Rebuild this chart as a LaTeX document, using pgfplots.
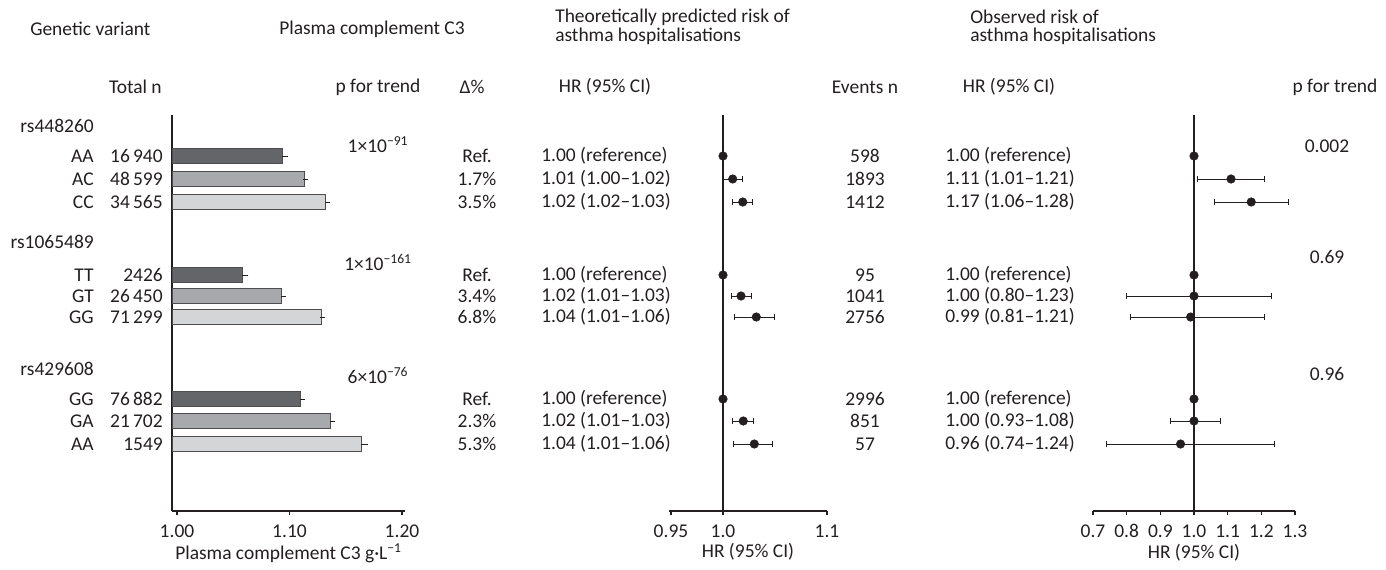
\documentclass[border=0pt]{standalone}
\usepackage{pgfplots}
\pgfplotsset{compat=1.18}
\usepackage{fontspec}
\setmainfont{Carlito}
\definecolor{bdark}{HTML}{646569}
\definecolor{bmid}{HTML}{A7A9AC}
\definecolor{blight}{HTML}{D4D5D7}
\definecolor{txt}{HTML}{231F20}
\newcommand\fs{\fontsize{14.6pt}{17.5pt}\selectfont}
\begin{document}
\fs
\begin{tikzpicture}[
  t/.style={inner sep=0pt, text=txt, font=\fs},
  R/.style={t, anchor=east},
  L/.style={t, anchor=west},
  C/.style={t, anchor=center}]
\path (0pt,0pt) rectangle (1039.5pt,-426pt);
\pgfplotsset{
  panel/.style={scale only axis, height=297pt, ymin=-511, ymax=-115,
    axis x line*=bottom, ytick=\empty, tick align=outside, major tick length=3pt,
    axis line style={line width=0.8pt, txt}, tick style={line width=0.8pt, txt},
    ticklabel style={font=\fs, text=txt},
    label style={font=\fs, text=txt},
    xticklabel style={inner sep=2pt, yshift=-5pt},
    xlabel style={yshift=2.5pt}},
  ci/.style={txt, line width=0.7pt, mark=|, mark size=2.2pt, mark options={solid}},
  dot/.style={only marks, mark=*, mark size=3.2pt, txt}
}
\begin{scope}[x=0.75pt,y=-0.75pt]
% ---------- headers
\node[L] at (30,29) {Genetic variant};
\node[L] at (279,29) {Plasma complement C3};
\node[L] at (555,17) {Theoretically predicted risk of};
\node[L] at (555,36) {asthma hospitalisations};
\node[L] at (970,17) {Observed risk of};
\node[L] at (970,36) {asthma hospitalisations};
\node[R] at (162,87) {Total n};
\node[C] at (378,87) {p for trend};
\node[C] at (472,87) {Δ\%};
\node[C] at (605,87) {HR (95\% CI)};
\node[C] at (865,87) {Events n};
\node[C] at (1009,87) {HR (95\% CI)};
\node[C] at (1335,87) {p for trend};
% ---------- row labels
\node[R] at (94,126) {rs448260};
\node[R] at (94,156) {AA}; \node[R] at (163,156) {16\,940};
\node[R] at (94,179) {AC}; \node[R] at (163,179) {48\,599};
\node[R] at (94,202) {CC}; \node[R] at (163,202) {34\,565};
\node[R] at (94,242) {rs1065489};
\node[R] at (94,275) {TT}; \node[R] at (163,275) {2426};
\node[R] at (94,296) {GT}; \node[R] at (163,296) {26\,450};
\node[R] at (94,317) {GG}; \node[R] at (163,317) {71\,299};
\node[R] at (94,369) {rs429608};
\node[R] at (94,399) {GG}; \node[R] at (163,399) {76\,882};
\node[R] at (94,421) {GA}; \node[R] at (163,421) {21\,702};
\node[R] at (94,444) {AA}; \node[R] at (163,444) {1549};
% p for trend (C3)
\node[C] at (378,145) {1×10\textsuperscript{−91}};
\node[C] at (378,262) {1×10\textsuperscript{−161}};
\node[C] at (378,375) {6×10\textsuperscript{−76}};
% delta %
\node[C] at (477,156) {Ref.};
\node[C] at (477,179) {1.7\%};
\node[C] at (477,202) {3.5\%};
\node[C] at (477,275) {Ref.};
\node[C] at (477,296) {3.4\%};
\node[C] at (477,317) {6.8\%};
\node[C] at (477,399) {Ref.};
\node[C] at (477,421) {2.3\%};
\node[C] at (477,444) {5.3\%};
% predicted HR text
\node[L] at (541,156) {1.00 (reference)};
\node[L] at (541,179) {1.01 (1.00–1.02)};
\node[L] at (541,202) {1.02 (1.02–1.03)};
\node[L] at (541,275) {1.00 (reference)};
\node[L] at (541,296) {1.02 (1.01–1.03)};
\node[L] at (541,317) {1.04 (1.01–1.06)};
\node[L] at (541,399) {1.00 (reference)};
\node[L] at (541,421) {1.02 (1.01–1.03)};
\node[L] at (541,444) {1.04 (1.01–1.06)};
% events
\node[C] at (865,156) {598};
\node[C] at (865,179) {1893};
\node[C] at (865,202) {1412};
\node[C] at (865,275) {95};
\node[C] at (865,296) {1041};
\node[C] at (865,317) {2756};
\node[C] at (865,399) {2996};
\node[C] at (865,421) {851};
\node[C] at (865,444) {57};
% observed HR text
\node[L] at (945,156) {1.00 (reference)};
\node[L] at (945,179) {1.11 (1.01–1.21)};
\node[L] at (945,202) {1.17 (1.06–1.28)};
\node[L] at (945,275) {1.00 (reference)};
\node[L] at (945,296) {1.00 (0.80–1.23)};
\node[L] at (945,317) {0.99 (0.81–1.21)};
\node[L] at (945,399) {1.00 (reference)};
\node[L] at (945,421) {1.00 (0.93–1.08)};
\node[L] at (945,444) {0.96 (0.74–1.24)};
% p for trend observed
\node[C] at (1327,146) {0.002};
\node[C] at (1327,257) {0.69};
\node[C] at (1327,374) {0.96};
\end{scope}

% ---------- panel 1: bars
\begin{axis}[panel, at={(129pt,-383.25pt)}, anchor=south west, width=174.75pt,
  xmin=0.99556, xmax=1.20267, axis y line*=left,
  xtick={1,1.1,1.2}, xticklabels={1.00,1.10,1.20},
  xlabel={Plasma complement C3 g·L\textsuperscript{−1}},
  xbar, bar width=11pt, bar shift=0pt,
  error bars/error bar style={line width=0.6pt, txt},
  error bars/error mark options={mark size=2pt, line width=0.6pt, txt}]
\addplot[fill=bdark, draw=txt!80, line width=0.6pt,
  error bars/.cd, x dir=plus, x explicit]
  coordinates {(1.094,-156) +- (0.002,0) (1.058,-275) +- (0.003,0) (1.110,-399) +- (0.0015,0)};
\addplot[fill=bmid, draw=txt!80, line width=0.6pt,
  error bars/.cd, x dir=plus, x explicit]
  coordinates {(1.113,-179) +- (0.0015,0) (1.093,-296) +- (0.0015,0) (1.136,-421) +- (0.002,0)};
\addplot[fill=blight, draw=txt!80, line width=0.6pt,
  error bars/.cd, x dir=plus, x explicit]
  coordinates {(1.132,-202) +- (0.0015,0) (1.128,-317) +- (0.0015,0) (1.164,-444) +- (0.0035,0)};
\end{axis}

% ---------- panel 2: predicted HR
\begin{axis}[panel, at={(501.75pt,-383.25pt)}, anchor=south west, width=118.5pt,
  xmin=0.94808, xmax=1.1, axis y line=none,
  xtick={0.95,1,1.1}, xticklabels={0.95,1.0,1.1},
  xlabel={HR (95\% CI)}, clip=false]
\addplot[txt, line width=0.8pt] coordinates {(1,-115) (1,-511)};
\addplot[ci] coordinates {(1.000,-179) (1.019,-179)};
\addplot[ci] coordinates {(1.0093,-202) (1.0282,-202)};
\addplot[ci] coordinates {(1.0077,-296) (1.0276,-296)};
\addplot[ci] coordinates {(1.0109,-317) (1.0493,-317)};
\addplot[ci] coordinates {(1.0093,-421) (1.0291,-421)};
\addplot[ci] coordinates {(1.0099,-444) (1.0478,-444)};
\addplot[dot] coordinates {(1,-156) (1.0093,-179) (1.019,-202)
  (1,-275) (1.0173,-296) (1.032,-317) (1,-399) (1.0195,-421) (1.0301,-444)};
\end{axis}

% ---------- panel 3: observed HR
\begin{axis}[panel, at={(819.75pt,-383.25pt)}, anchor=south west, width=151.5pt,
  xmin=0.7, xmax=1.3, axis y line=none,
  xtick={0.7,0.8,0.9,1.0,1.1,1.2,1.3}, xticklabels={0.7,0.8,0.9,1.0,1.1,1.2,1.3},
  xlabel={HR (95\% CI)}, clip=false]
\addplot[txt, line width=0.8pt] coordinates {(1,-115) (1,-511)};
\addplot[ci] coordinates {(1.01,-179) (1.21,-179)};
\addplot[ci] coordinates {(1.06,-202) (1.28,-202)};
\addplot[ci] coordinates {(0.80,-296) (1.23,-296)};
\addplot[ci] coordinates {(0.81,-317) (1.21,-317)};
\addplot[ci] coordinates {(0.93,-421) (1.08,-421)};
\addplot[ci] coordinates {(0.74,-444) (1.24,-444)};
\addplot[dot] coordinates {(1,-156) (1.11,-179) (1.17,-202)
  (1,-275) (1.00,-296) (0.99,-317) (1,-399) (1.00,-421) (0.96,-444)};
\end{axis}
\end{tikzpicture}
\end{document}
